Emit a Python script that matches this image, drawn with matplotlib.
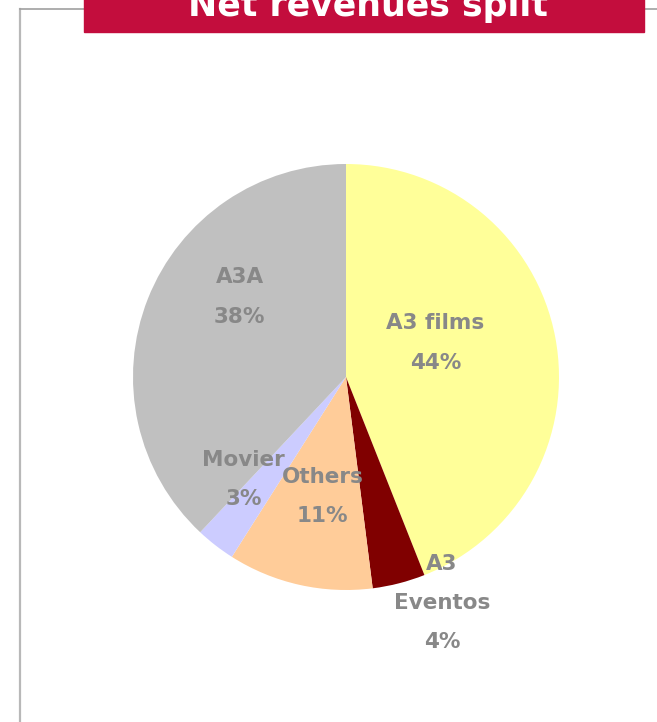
import matplotlib.pyplot as plt
from matplotlib.patches import Rectangle
from matplotlib.lines import Line2D

# data
segments = ['A3 films', 'A3\nEventos', 'Others', 'Movier', 'A3A']
shares = [44, 4, 11, 3, 38]
colors = ['#FFFF99', '#800000', '#FFCC99', '#CCCCFF', '#C0C0C0']
# label centres in pie units (radius = 1)
label_pos = [(0.42, 0.16), (0.45, -1.06), (-0.11, -0.56), (-0.48, -0.48), (-0.50, 0.376)]

W, H = 657, 722
fig = plt.figure(figsize=(W / 100, H / 100), dpi=100)

# frame lines (top + left border)
fig.add_artist(Line2D([20 / W, 20 / W], [0, 1 - 9 / H], color='#b8b8b8', lw=1.6))
fig.add_artist(Line2D([20 / W, 1], [1 - 9 / H, 1 - 9 / H], color='#a0a0a0', lw=1.2))

# title banner
fig.add_artist(Rectangle((84 / W, 1 - 32 / H), (644 - 84) / W, 32 / H + 0.01,
                         transform=fig.transFigure, color='#C30D3D', zorder=3))
fig.text(368 / W, 1 - 16 / H, 'Net revenues split', color='white', fontsize=25,
         fontweight='bold', ha='center', va='baseline', zorder=4)

# pie
cx, cy, r = 346, 377, 213
ax = fig.add_axes([(cx - r) / W, (H - cy - r) / H, 2 * r / W, 2 * r / H])
ax.pie(shares, colors=colors, startangle=90, counterclock=False,
       wedgeprops=dict(linewidth=0))
ax.set_xlim(-1, 1)
ax.set_ylim(-1, 1)
ax.set_aspect('equal')
ax.axis('off')

for name, val, (lx, ly) in zip(segments, shares, label_pos):
    ax.text(lx, ly, f'{name}\n{val}%', ha='center', va='center', color='#888888',
            fontsize=15.5, fontweight='bold', linespacing=2.2, clip_on=False)

fig.savefig('out.png', dpi=100)
